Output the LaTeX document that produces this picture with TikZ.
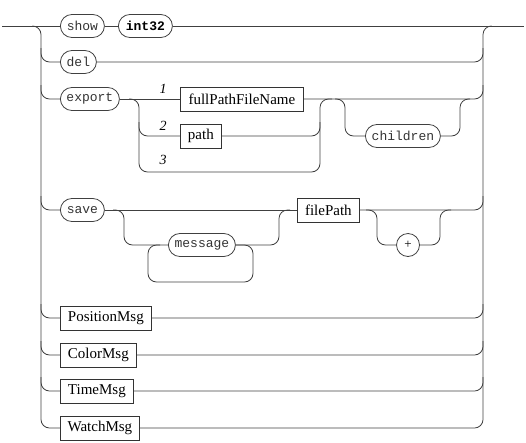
\documentclass[tikz,border=0pt]{standalone}
\usepackage{fontspec}
\setmainfont{Liberation Serif}
\setmonofont{Liberation Mono}
\usetikzlibrary{calc}
\tikzset{
  conn/.style={draw=black!75, line width=0.8pt, rounded corners=8.5pt},
  term/.style={draw=black!75, line width=0.8pt, rounded corners=11.5pt, minimum height=23pt, inner sep=0pt, font=\fontsize{13}{14}\selectfont\ttfamily, text=black!80, anchor=west},
  nterm/.style={draw=black!80, line width=0.8pt, minimum height=24pt, inner sep=0pt, font=\fontsize{15}{17}\selectfont, anchor=west},
  lab/.style={font=\fontsize{14}{16}\selectfont\itshape, inner sep=0pt},
  plusnode/.style={circle, draw=black!75, line width=0.8pt, minimum size=23pt, inner sep=0pt, font=\fontsize{13}{14}\selectfont}
}
\begin{document}
\begin{tikzpicture}[x=1pt,y=-1pt]
\useasboundingbox (0,0) rectangle (526,442);
% junction coordinates
\coordinate (in) at (2,26);
\coordinate (out) at (524,26);
\coordinate (lsplit) at (33,26);
\coordinate (rjoin) at (491,26);
\coordinate (railL) at (41,0);
\coordinate (railR) at (483,0);
\coordinate (railA) at (139,0);
\coordinate (railB) at (320,0);
\coordinate (railC) at (345,0);
\coordinate (railD) at (460,0);
\coordinate (railE) at (124,0);
\coordinate (loopR) at (253,0);
\coordinate (loopL) at (148,0);
\coordinate (railF) at (279,0);
\coordinate (railG) at (377,0);
\coordinate (railH) at (440,0);
\coordinate (r3) at (0,172);
\coordinate (lb) at (0,282);
\coordinate (esplit) at (129,99);
\coordinate (bmerge) at (332,99);
\coordinate (csplit) at (335,99);
\coordinate (cmerge) at (470,99);
\coordinate (ssplit) at (113,210);
\coordinate (lmerge) at (160,245);
\coordinate (fmerge) at (290,210);
\coordinate (psplit) at (366,210);
\coordinate (pmerge) at (451,210);

% nodes
\node[term, minimum width=44pt] (show) at (60,26) {show};
\node[term, minimum width=54pt, font=\fontsize{13}{14}\selectfont\ttfamily\bfseries, text=black] (int32) at (118,26) {int32};
\node[term, minimum width=36pt] (del) at (60,62) {del};
\node[term, minimum width=59pt] (export) at (60,99) {export};
\node[nterm, minimum width=123pt] (fpf) at (180,99) {fullPathFileName};
\node[nterm, minimum width=41pt] (path) at (180,136) {path};
\node[term, minimum width=75pt] (children) at (365,136) {children};
\node[term, minimum width=44pt] (save) at (60,210) {save};
\node[term, minimum width=67pt] (message) at (168,245) {message};
\node[nterm, minimum width=62pt] (filePath) at (297,210) {filePath};
\node[plusnode] (plus) at (408,245) {+};
\node[nterm, minimum width=91pt] (PositionMsg) at (60,318) {PositionMsg};
\node[nterm, minimum width=76pt] (ColorMsg) at (60,355) {ColorMsg};
\node[nterm, minimum width=73pt] (TimeMsg) at (60,391) {TimeMsg};
\node[nterm, minimum width=79pt] (WatchMsg) at (60,428) {WatchMsg};
\node[lab] (n1) at (163,89) {1};
\node[lab] (n2) at (163,126) {2};
\node[lab] (n3) at (163,160) {3};

% main line
\draw[conn] (in) -- (show.west);
\draw[conn] (show.east) -- (int32.west);
\draw[conn] (int32.east) -- (out);

% left rail
\draw[conn] (lsplit) -- (railL |- lsplit) -- (railL |- WatchMsg) -- (WatchMsg.west);
\foreach \n in {del,export,save,PositionMsg,ColorMsg,TimeMsg}{
  \draw[conn] ($(railL |- \n)+(0,-14)$) -- (railL |- \n) -- (\n.west);
}
% right rail
\draw[conn] (WatchMsg.east) -- (railR |- WatchMsg) -- (railR |- out) -- (rjoin);
\foreach \n in {del,fpf,filePath,PositionMsg,ColorMsg,TimeMsg}{
  \draw[conn] (\n.east) -- (railR |- \n) -- ($(railR |- \n)+(0,-14)$);
}

% export choice
\draw[conn] (export.east) -- (fpf.west);
\draw[conn] (esplit) -- (railA |- esplit) -- (railA |- r3) -- (railB |- r3) -- (railB |- esplit) -- (bmerge);
\draw[conn] ($(railA |- path)+(0,-14)$) -- (railA |- path) -- (path.west);
\draw[conn] (path.east) -- (railB |- path) -- ($(railB |- path)+(0,-14)$);
% optional children
\draw[conn] (csplit) -- (railC |- csplit) -- (railC |- children) -- (children.west);
\draw[conn] (children.east) -- (railD |- children) -- (railD |- fpf) -- (cmerge);

% save
\draw[conn] (save.east) -- (filePath.west);
\draw[conn] (ssplit) -- (railE |- ssplit) -- (railE |- message) -- (message.west);
\draw[conn] (message.east) -- (loopR |- message) -- (loopR |- lb) -- (loopL |- lb) -- (loopL |- message) -- (lmerge);
\draw[conn] (message.east) -- (railF |- message) -- (railF |- filePath) -- (fmerge);
\draw[conn] (psplit) -- (railG |- psplit) -- (railG |- plus) -- (plus.west);
\draw[conn] (plus.east) -- (railH |- plus) -- (railH |- filePath) -- (pmerge);
\end{tikzpicture}
\end{document}
